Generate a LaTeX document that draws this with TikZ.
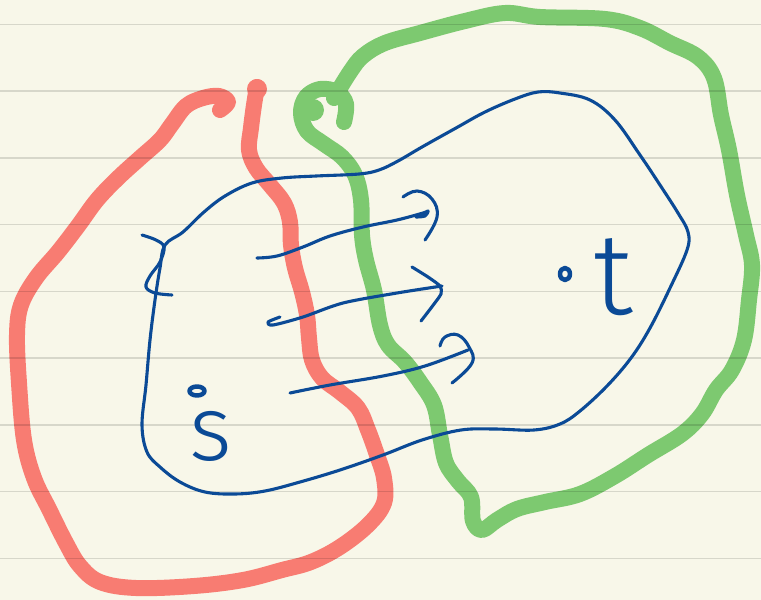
\documentclass[tikz,border=0pt]{standalone}
\usepackage{fontspec}
\newfontfamily\handfont{Fira Sans Light}
\definecolor{paper}{HTML}{F8F7E9}
\definecolor{penred}{HTML}{F87C72}
\definecolor{pengreen}{HTML}{7DC970}
\definecolor{penblue}{HTML}{0B4A96}
\begin{document}
\begin{tikzpicture}[x=1pt,y=-1pt,
  marker/.style={line width=16pt,line cap=round,line join=round},
  pen/.style={draw=penblue,line width=3.1pt,line cap=round,line join=round},
  rule/.style={draw=black,opacity=0.13,line width=1.6pt},
  letter/.style={text=penblue,inner sep=0pt}]
\fill[paper] (0,0) rectangle (761,600);
\useasboundingbox (0,0) rectangle (761,600);
% red closed curve
\draw[marker,penred] plot[smooth,tension=0.6] coordinates {
 (220,110) (228,102) (219,96) (203,98) (186,106) (172,124) (160,140) (140,158)
 (118,178) (97,200) (78,226) (58,252) (36,278) (21,305) (17,335) (19,383)
 (24,440) (34,478) (49,509) (66,543) (80,566) (100,582) (136,588) (194,586)
 (243,580) (282,570) (311,562) (340,547) (368,525) (384,503) (384,478)
 (377,455) (368,430) (358,408) (340,392) (322,378) (312,360) (309,338)
 (307,315) (302,292) (295,268) (291,245) (290,222) (284,203) (270,185)
 (256,168) (249,150) (251,128) (254,105) (257,87)};
\fill[penred] (257,89) circle [radius=10];
% green closed curve
\draw[marker,pengreen] plot[smooth,tension=0.6] coordinates {
 (344,122) (346,104) (337,92) (320,89) (306,97) (301,113) (307,131) (324,144)
 (342,157) (355,175) (361,200) (362,235) (366,260) (374,290) (380,325)
 (388,345) (405,362) (420,382) (434,405) (440,435) (446,463) (458,481)
 (471,497) (473,521) (482,530) (497,520) (517,509) (545,502) (580,494)
 (615,476) (648,455) (682,434) (702,414) (716,390) (732,370) (744,340)
 (749,300) (752,265) (746,235) (737,195) (729,150) (721,115) (714,78)
 (698,57) (670,43) (640,28) (605,19) (540,17) (505,13) (465,21) (420,33)
 (385,43) (363,56) (350,72) (334,98)};
\fill[pengreen] (313,110) circle [radius=11];
% ruled lines
\foreach \k in {0,...,8}
  \draw[rule] (0,{24.3+66.75*\k}) -- (761,{24.3+66.75*\k});
% blue blob
\draw[pen] plot[smooth cycle,tension=0.6] coordinates {
 (165,245) (160,268) (155,300) (150,340) (146,385) (142,425) (147,452)
 (160,467) (180,482) (205,492) (235,494) (265,491) (300,482) (340,470)
 (383,455) (422,440) (461,430) (495,429) (534,430) (560,424) (580,411)
 (607,386) (631,358) (650,328) (670,288) (687,250) (688,232) (678,213)
 (660,185) (640,155) (615,120) (590,100) (560,93) (538,92) (515,99)
 (485,112) (456,128) (422,147) (398,161) (379,170) (359,174) (316,176)
 (282,178) (252,183) (225,196) (204,212) (183,232)};
% little loop at the left of the blob
\draw[pen] plot[smooth,tension=0.6] coordinates {
 (142,235) (156,240) (164,247) (160,262) (150,276) (146,287) (155,293) (172,295)};
% arrows
\draw[pen] plot[smooth,tension=0.6] coordinates {
 (257,258) (277,256) (303,247) (330,236) (363,227) (397,220) (423,213) (428,211) (425,216) (416,217)};
\draw[pen] plot[smooth,tension=0.7] coordinates {
 (403,197) (417,191) (432,199) (437,217) (425,240)};
\draw[pen] plot[smooth,tension=0.5] coordinates {
 (280,317) (268,322) (273,325) (303,317) (343,303) (397,293) (442,286)};
\draw[pen] plot[smooth,tension=0.4] coordinates {
 (412,267) (428,277) (440,286) (441,294) (431,308) (421,321)};
\draw[pen] plot[smooth,tension=0.6] coordinates {
 (290,393) (330,385) (383,376) (425,366) (468,350)};
\draw[pen] plot[smooth,tension=0.7] coordinates {
 (440,346) (445,337) (458,335) (469,347) (472,363) (452,383)};
% vertex dots
\draw[pen,line width=4.5pt] (197,391) ellipse [x radius=7.5, y radius=4.5];
\draw[pen,line width=4.5pt] (565,274) ellipse [x radius=5, y radius=6];
% labels
\node[letter,font=\handfont\fontsize{92}{92}\selectfont] (s) at (211,436) {s};
\node[letter,font=\handfont\fontsize{116}{116}\selectfont] (t) at (613,277) {t};
\end{tikzpicture}
\end{document}
